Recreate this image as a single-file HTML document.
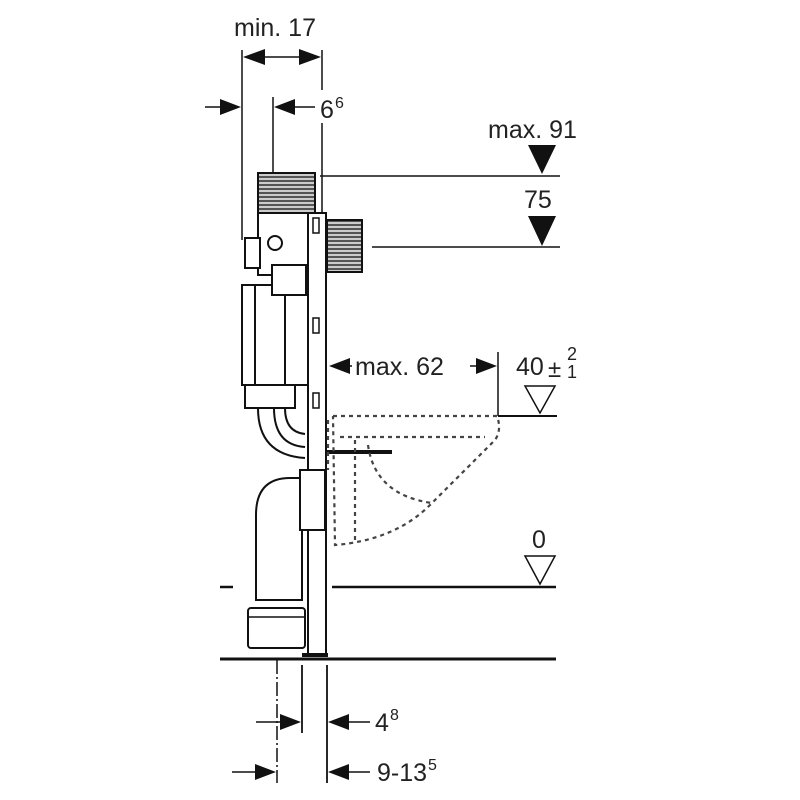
<!DOCTYPE html>
<html><head><style>
html,body{margin:0;padding:0;background:#fff;}
svg{display:block}
text{font-family:"Liberation Sans",sans-serif;fill:#222}
</style></head><body>
<svg width="800" height="800" viewBox="0 0 800 800" xmlns="http://www.w3.org/2000/svg">
<defs>
<pattern id="hatch" width="4" height="4" patternUnits="userSpaceOnUse"><rect width="4" height="4" fill="#ccc"/><rect width="4" height="2" fill="#555"/></pattern>
</defs>
<g stroke="#111" fill="none">
<line x1="242" y1="50" x2="242" y2="240" stroke-width="1.5"/>
<line x1="322" y1="50" x2="322" y2="90" stroke-width="1.5"/>
<line x1="322" y1="123" x2="322" y2="215" stroke-width="1.5"/>
<line x1="273" y1="97" x2="273" y2="240" stroke-width="1.5"/>
<line x1="250" y1="57" x2="315" y2="57" stroke-width="1.5"/>
<line x1="205" y1="107" x2="235" y2="107" stroke-width="1.5"/>
<line x1="280" y1="107" x2="315" y2="107" stroke-width="1.5"/>
<line x1="320" y1="176" x2="560" y2="176" stroke-width="1.5"/>
<line x1="372" y1="247" x2="560" y2="247" stroke-width="1.5"/>
<line x1="498" y1="352" x2="498" y2="416" stroke-width="1.5"/>
<line x1="498" y1="416" x2="557" y2="416" stroke-width="2"/>
<line x1="332" y1="587" x2="556" y2="587" stroke-width="2.5"/>
<line x1="220" y1="587" x2="233" y2="587" stroke-width="2.5"/>
<line x1="220" y1="659" x2="556" y2="659" stroke-width="3"/>
<line x1="335" y1="366" x2="352" y2="366" stroke-width="1.5"/>
<line x1="470" y1="366" x2="492" y2="366" stroke-width="1.5"/>
<line x1="277" y1="660" x2="277" y2="783" stroke-width="1.5" stroke-dasharray="14,3,2,3"/>
<line x1="302" y1="665" x2="302" y2="733" stroke-width="1.8"/>
<line x1="327" y1="665" x2="327" y2="783" stroke-width="1.8"/>
<line x1="256" y1="722" x2="296" y2="722" stroke-width="1.5"/>
<line x1="333" y1="722" x2="370" y2="722" stroke-width="1.5"/>
<line x1="232" y1="772" x2="270" y2="772" stroke-width="1.5"/>
<line x1="333" y1="772" x2="370" y2="772" stroke-width="1.5"/>
<polygon points="525,386 555,386 540,413" stroke-width="1.5"/>
<polygon points="525,556 555,556 540,584" stroke-width="1.5"/>
</g>
<g fill="#111">
<polygon points="243,57 265,49 265,65"/>
<polygon points="321,57 299,49 299,65"/>
<polygon points="241,107 220,99 220,115"/>
<polygon points="274,107 295,99 295,115"/>
<polygon points="528,145 556,145 542,174"/>
<polygon points="528,216 556,216 542,246"/>
<polygon points="329,366 350,358 350,374"/>
<polygon points="497,366 476,358 476,374"/>
<polygon points="301,722 280,714 280,730"/>
<polygon points="328,722 349,714 349,730"/>
<polygon points="276,772 255,764 255,780"/>
<polygon points="328,772 349,764 349,780"/>
</g>
<text x="234" y="36" font-size="25">min. 17</text>
<text x="320" y="118" font-size="25">6</text><text x="335" y="108" font-size="16">6</text>
<text x="488" y="138" font-size="25">max. 91</text>
<text x="524" y="208" font-size="25">75</text>
<text x="355" y="375" font-size="25">max. 62</text>
<text x="516" y="375" font-size="25">40</text>
<text x="548" y="377" font-size="24">±</text>
<text x="567" y="360" font-size="18">2</text><text x="567" y="378" font-size="18">1</text>
<text x="532" y="548" font-size="25">0</text>
<text x="375" y="731" font-size="25">4</text><text x="390" y="720" font-size="16">8</text>
<text x="377" y="781" font-size="25">9-13</text><text x="428" y="770" font-size="16">5</text>
<g stroke="#111" stroke-width="2" fill="#fff">
<rect x="258" y="173" width="57" height="40" fill="url(#hatch)"/>
<rect x="327" y="220" width="35" height="52" fill="url(#hatch)"/>
<rect x="258" y="213" width="50" height="62"/>
<rect x="245" y="238" width="15" height="30"/>
<circle cx="275" cy="243" r="7"/>
<rect x="242" y="285" width="66" height="100"/>
<line x1="255" y1="285" x2="255" y2="385"/>
<line x1="285" y1="285" x2="285" y2="385"/>
<rect x="272" y="265" width="34" height="30"/>
<rect x="245" y="385" width="50" height="23"/>
<path d="M258,408 Q258,455 305,458" />
<path d="M274,408 Q274,445 305,447" />
<path d="M285,408 Q285,432 305,434" />
<rect x="308" y="213" width="18" height="442"/>
<rect x="313" y="218" width="6" height="15" stroke-width="1.5"/>
<rect x="313" y="318" width="6" height="15" stroke-width="1.5"/>
<rect x="313" y="393" width="6" height="15" stroke-width="1.5"/>
<path d="M303,478 L290,478 Q256,478 256,515 L256,600 L302,600 L302,478"/>
<rect x="300" y="470" width="25" height="60" stroke-width="2"/>
<rect x="248" y="608" width="57" height="40" rx="3"/>
<line x1="248" y1="617" x2="305" y2="617" stroke-width="1.5"/>
<line x1="302" y1="655" x2="328" y2="655" stroke-width="4"/>
</g>
<line x1="326" y1="452" x2="392" y2="452" stroke="#111" stroke-width="4"/>
<g stroke="#444" stroke-width="2.2" fill="none" stroke-dasharray="4,4">
<path d="M333,416 L497,416 Q502,430 495,440 L430,505 Q395,540 335,545 L333,416"/>
<path d="M340,437 L485,437"/>
<path d="M368,445 Q375,495 432,503"/>
<path d="M355,440 L355,542"/>
<path d="M328,420 L328,470"/>
</g>
</svg>
</body></html>
